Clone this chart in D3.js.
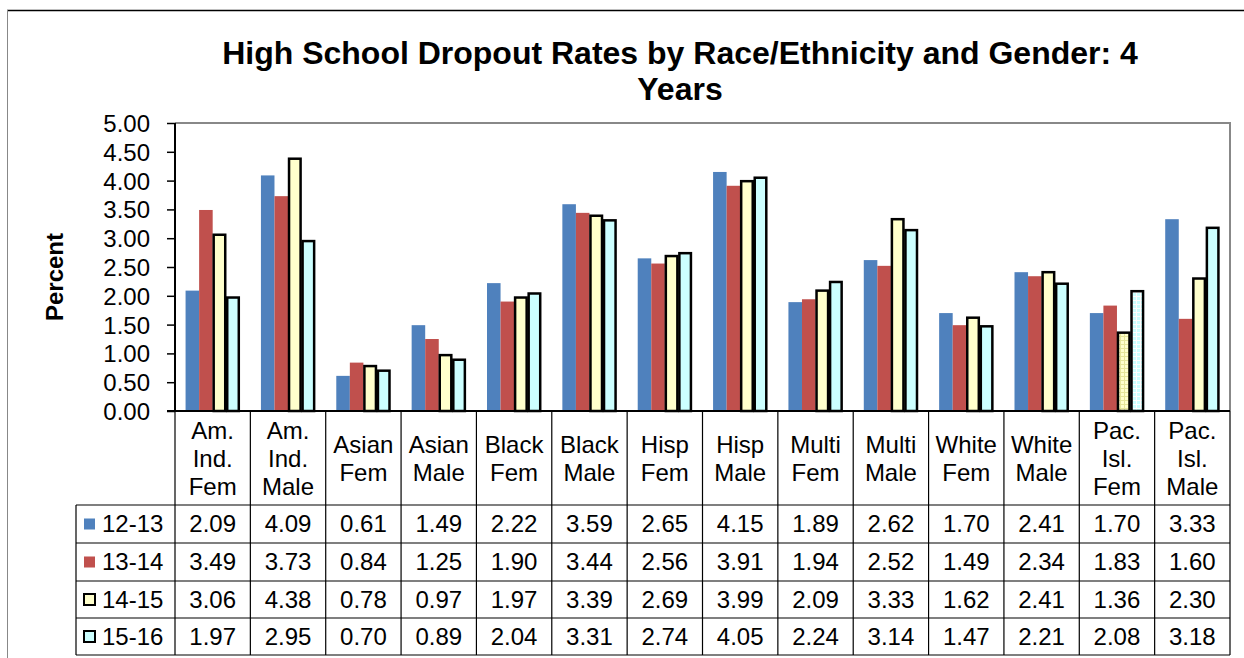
<!DOCTYPE html>
<html>
<head>
<meta charset="utf-8">
<script src="https://cdn.jsdelivr.net/npm/d3@7"></script>
<style>
  html, body { margin: 0; padding: 0; background: #fff; }
  svg { display: block; font-family: Arial, "Liberation Sans", sans-serif; }
</style>
</head>
<body>
<svg id="chart" width="1244" height="658"></svg>
<script>
// Category header labels (one entry per line of the table header cell)
const categories = [
  ["Am.", "Ind.", "Fem"], ["Am.", "Ind.", "Male"], ["Asian", "Fem"], ["Asian", "Male"],
  ["Black", "Fem"], ["Black", "Male"], ["Hisp", "Fem"], ["Hisp", "Male"],
  ["Multi", "Fem"], ["Multi", "Male"], ["White", "Fem"], ["White", "Male"],
  ["Pac.", "Isl.", "Fem"], ["Pac.", "Isl.", "Male"]
];
const seriesNames = ["12-13", "13-14", "14-15", "15-16"];
const values1213 = [2.09, 4.09, 0.61, 1.49, 2.22, 3.59, 2.65, 4.15, 1.89, 2.62, 1.70, 2.41, 1.70, 3.33];
const values1314 = [3.49, 3.73, 0.84, 1.25, 1.90, 3.44, 2.56, 3.91, 1.94, 2.52, 1.49, 2.34, 1.83, 1.60];
const values1415 = [3.06, 4.38, 0.78, 0.97, 1.97, 3.39, 2.69, 3.99, 2.09, 3.33, 1.62, 2.41, 1.36, 2.30];
const values1516 = [1.97, 2.95, 0.70, 0.89, 2.04, 3.31, 2.74, 4.05, 2.24, 3.14, 1.47, 2.21, 2.08, 3.18];
const yTicks = [0, 0.5, 1, 1.5, 2, 2.5, 3, 3.5, 4, 4.5, 5];
const titleLines = ["High School Dropout Rates by Race/Ethnicity and Gender: 4", "Years"];
const yTitle = "Percent";

const seriesValues = [values1213, values1314, values1415, values1516];
const fills = ["#4F81BD", "#C0504D", "#FFFFCC", "#CCFFFF"];
const outlined = [false, false, true, true];

const svg = d3.select("#chart");
const plotLeft = 175, plotRight = 1230, plotTop = 123, plotBottom = 411;
const rowTops = [505, 543, 581, 618, 655];
const legendLeft = 76;
const fontSize = 24;

// outer frame
svg.append("line").attr("x1", 7).attr("x2", 1244).attr("y1", 10.5).attr("y2", 10.5)
  .attr("stroke", "#000").attr("stroke-width", 1.5);
svg.append("line").attr("x1", 7.5).attr("x2", 7.5).attr("y1", 10).attr("y2", 658)
  .attr("stroke", "#888").attr("stroke-width", 1);

// patterns used for the Pac. Isl. Fem highlighted bars
const defs = svg.append("defs");
[["pat2", "#FFFFCC", "#E6E69A"], ["pat3", "#CCFFFF", "#FFFFFF"]].forEach(([id, base, line]) => {
  const p = defs.append("pattern").attr("id", id).attr("patternUnits", "userSpaceOnUse")
    .attr("width", 4).attr("height", 4);
  p.append("rect").attr("width", 4).attr("height", 4).attr("fill", base);
  p.append("path").attr("d", "M0,0.5H4M0.5,0V4").attr("stroke", line).attr("stroke-width", 1);
});

const x = d3.scaleBand().domain(d3.range(categories.length)).range([plotLeft, plotRight]).padding(0);
const xs = d3.scaleBand().domain(d3.range(seriesNames.length)).range([0, x.bandwidth()])
  .paddingInner(0).paddingOuter(0.78);
const y = d3.scaleLinear().domain([0, 5]).range([plotBottom, plotTop]);

// title
svg.append("text").attr("font-weight", "bold").attr("font-size", 32)
  .attr("text-anchor", "middle")
  .selectAll("tspan").data(titleLines).join("tspan")
  .attr("x", 680).attr("y", (d, i) => 64 + i * 36).text(d => d);

// y-axis title
svg.append("text").attr("transform", "translate(63,277) rotate(-90)")
  .attr("text-anchor", "middle").attr("font-weight", "bold").attr("font-size", fontSize)
  .text(yTitle);

// plot area border (top and right)
svg.append("path").attr("d", `M${plotLeft},${plotTop}H${plotRight}V${plotBottom}`)
  .attr("fill", "none").attr("stroke", "#888").attr("stroke-width", 2);

// bars
const bars = svg.append("g");
seriesValues.forEach((vals, s) => {
  bars.selectAll(null).data(vals).join("rect")
    .attr("x", (d, i) => x(i) + xs(s) + (outlined[s] ? 1 : 0))
    .attr("y", d => y(d))
    .attr("width", xs.bandwidth() - (outlined[s] ? 2 : 0))
    .attr("height", d => y(0) - y(d))
    .attr("fill", (d, i) => (outlined[s] && i === 12) ? `url(#pat${s})` : fills[s])
    .attr("stroke", outlined[s] ? "#000" : "none")
    .attr("stroke-width", outlined[s] ? 2.5 : 0);
});

// y axis
const yAxis = d3.axisLeft(y).tickValues(yTicks).tickFormat(d3.format(".2f"))
  .tickSize(8).tickPadding(17);
const ya = svg.append("g").attr("transform", `translate(${plotLeft},0)`).call(yAxis);
ya.select(".domain").attr("stroke", "#000").attr("stroke-width", 2).attr("d", `M0,${plotTop}V${plotBottom}`);
ya.selectAll(".tick line").attr("stroke", "#000").attr("stroke-width", 1.5);
ya.selectAll(".tick text").attr("font-size", fontSize).attr("fill", "#000")
  .attr("font-family", "Arial, 'Liberation Sans', sans-serif").attr("dy", "0.35em");

// data table
const table = svg.append("g").attr("stroke", "#000").attr("stroke-width", 1.2);
table.append("line").attr("x1", plotLeft - 8).attr("x2", plotRight).attr("y1", plotBottom).attr("y2", plotBottom)
  .attr("stroke-width", 2);
d3.range(categories.length + 1).forEach(i => {
  const xx = i < categories.length ? x(i) : plotRight;
  table.append("line").attr("x1", xx).attr("x2", xx).attr("y1", plotBottom).attr("y2", rowTops[4]);
});
rowTops.forEach(ry => {
  table.append("line").attr("x1", legendLeft).attr("x2", plotRight).attr("y1", ry).attr("y2", ry);
});
table.append("line").attr("x1", legendLeft).attr("x2", legendLeft).attr("y1", rowTops[0]).attr("y2", rowTops[4]);

// header text
const hdr = svg.append("g").attr("font-size", fontSize).attr("text-anchor", "middle");
categories.forEach((lines, i) => {
  const cx = x(i) + x.bandwidth() / 2;
  const lh = 28;
  const midY = (plotBottom + rowTops[0]) / 2 + 1;
  const y0 = midY - (lines.length - 1) * lh / 2;
  hdr.append("text").selectAll("tspan").data(lines).join("tspan")
    .attr("x", cx).attr("y", (d, k) => y0 + k * lh).attr("dy", "0.35em").text(d => d);
});

// value rows with legend keys
const rows = svg.append("g").attr("font-size", fontSize);
seriesValues.forEach((vals, s) => {
  const cy = (rowTops[s] + rowTops[s + 1]) / 2;
  rows.append("rect").attr("x", 84).attr("y", cy - 5.5).attr("width", 11).attr("height", 11)
    .attr("fill", fills[s]).attr("stroke", outlined[s] ? "#000" : "none").attr("stroke-width", 2);
  rows.append("text").attr("x", 102).attr("y", cy).attr("dy", "0.35em").text(seriesNames[s]);
  rows.selectAll(null).data(vals).join("text")
    .attr("x", (d, i) => x(i) + x.bandwidth() / 2).attr("y", cy).attr("dy", "0.35em")
    .attr("text-anchor", "middle").text(d => d3.format(".2f")(d));
});
</script>
</body>
</html>
